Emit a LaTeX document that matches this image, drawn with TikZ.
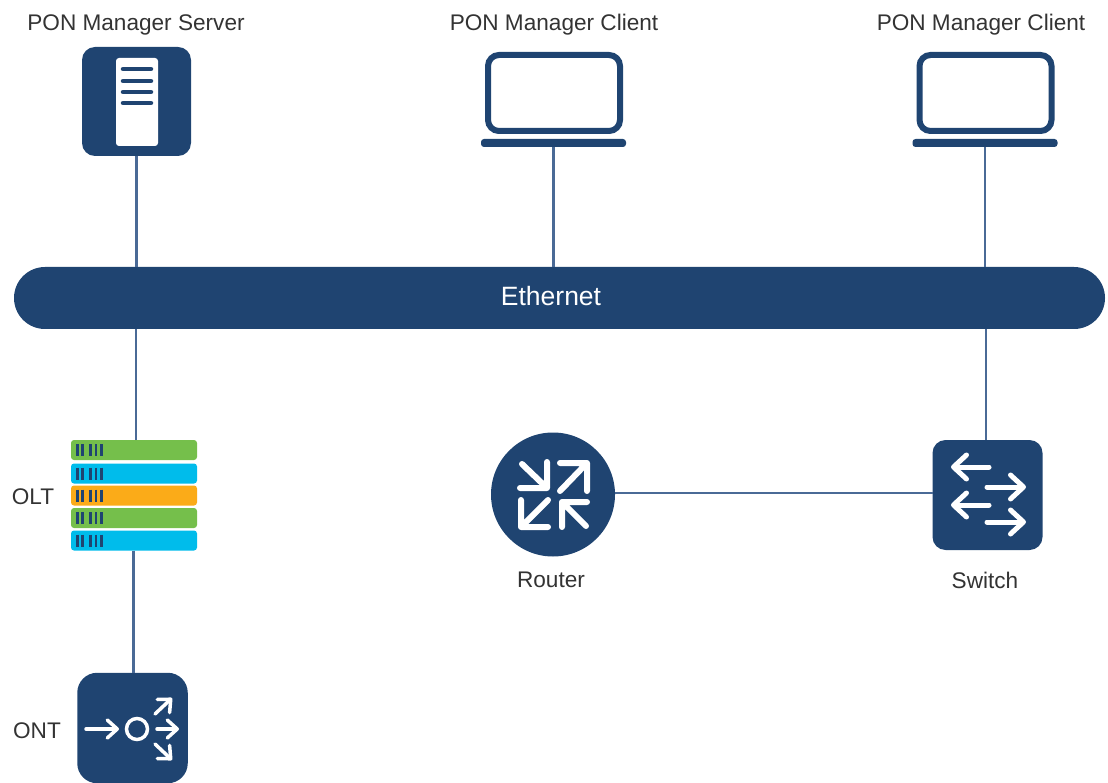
\documentclass[tikz,border=0pt]{standalone}
\usepackage{fontspec}
\setmainfont{Liberation Sans}
\usetikzlibrary{arrows.meta}
\definecolor{navy}{HTML}{1F4471}
\definecolor{wire}{HTML}{4A6A96}
\definecolor{oltgreen}{HTML}{75BF4B}
\definecolor{oltblue}{HTML}{00BCEB}
\definecolor{oltorange}{HTML}{FBAB18}
\definecolor{textgray}{HTML}{333333}
\tikzset{
  tile/.style={fill=navy,rounded corners=13pt,minimum width=#1,minimum height=#1,inner sep=0pt},
  wirelink/.style={draw=wire,line width=2.2pt},
  caption/.style={text=textgray,font=\fontsize{22.6}{26}\selectfont,inner sep=0pt},
  smallglyph/.style={draw=white,line width=3.5pt,line cap=round,-{Straight Barb[length=10pt,width=18pt,round]}},
  bigglyph/.style={draw=white,line width=5pt,line cap=round,-{Straight Barb[length=13pt,width=24pt,round]}},
  cornerglyph/.style={draw=white,line width=6pt,line cap=round,line join=round},
  screen/.style={draw=navy,line width=6pt,rounded corners=11pt,minimum width=132pt,minimum height=76pt,inner sep=0pt},
  base/.style={fill=navy,rounded corners=3pt,minimum width=145pt,minimum height=8pt,inner sep=0pt},
  shelf/.style={fill=#1,rounded corners=3pt,minimum width=126pt,minimum height=20pt,inner sep=0pt}
}
\begin{document}
\begin{tikzpicture}[x=1pt,y=-1pt]
\useasboundingbox (0,0) rectangle (1108,783);
% top row
\node [tile=109pt] (server) at (136.5,101.5) {};
\node [fill=white,rounded corners=3pt,minimum width=42pt,minimum height=88pt,inner sep=0pt] (blade) at (137,102) {};
\foreach \y in {69,81,92,103} {
  \draw [navy,line width=4.5pt,line cap=round] (123,\y) -- (151,\y);
}
\node [screen] (screenA) at (554,93) {};
\node [base] (laptopA) at (553.5,143) {};
\node [screen] (screenB) at (985.5,93) {};
\node [base] (laptopB) at (985,143) {};
\node [caption] (serverlabel) at (136,25) {PON Manager Server};
\node [caption] (clientlabelA) at (554,25) {PON Manager Client};
\node [caption] (clientlabelB) at (981,25) {PON Manager Client};
% bus
\node [fill=navy,rounded corners=31pt,minimum width=1091pt,minimum height=62pt,inner sep=0pt] (ethernet) at (559.5,298) {};
\node [text=white,font=\fontsize{26.5}{30}\selectfont,inner sep=0pt] (ethernetlabel) at (551,296) {Ethernet};
% OLT stack
\foreach \name/\y/\col in {shelfA/450/oltgreen,shelfB/473.5/oltblue,shelfC/495.5/oltorange,shelfD/518/oltgreen,shelfE/540.5/oltblue} {
  \node [shelf=\col] (\name) at (134,\y) {};
  \foreach \x in {77.5,82.5,90.5,96,101.5} {
    \draw [navy,line width=2.6pt] (\x,\y-6) -- (\x,\y+6);
  }
}
\node [caption] (oltlabel) at (33,497) {OLT};
% ONT
\node [tile=110.5pt,rounded corners=20pt] (ont) at (132.5,728) {};
\draw [smallglyph] (86,729) -- (119,729);
\node [circle,draw=white,line width=3.5pt,minimum size=21pt,inner sep=0pt] (splitter) at (137,729) {};
\draw [smallglyph] (157,729) -- (179,729);
\draw [smallglyph] (155,714) -- (172,698);
\draw [smallglyph] (155,744) -- (172,760);
\node [caption] (ontlabel) at (37,731) {ONT};
% router
\node [circle,fill=navy,minimum size=124pt,inner sep=0pt] (router) at (553,494.5) {};
\foreach \tipx/\tipy/\earx/\eary/\tailx/\taily in {547/488/520/462/522/464,587/463/560/491/560/491,521/527/548/500/548/500,562/502/587/527/586/526} {
  \draw [cornerglyph] (\earx,\tipy) -- (\tipx,\tipy) -- (\tipx,\eary) (\tipx,\tipy) -- (\tailx,\taily);
}
\node [caption] (routerlabel) at (551,580) {Router};
% switch
\node [tile=110pt] (switch) at (987.5,495) {};
\foreach \y in {467,505} {
  \draw [bigglyph] (989,\y) -- (951,\y);
}
\foreach \y in {487,522} {
  \draw [bigglyph] (987,\y) -- (1026,\y);
}
\node [caption] (switchlabel) at (985,580) {Switch};
% wires
\draw [wirelink] (server.south) -- (server.south |- ethernet.north);
\draw [wirelink] (laptopA.south) -- (laptopA.south |- ethernet.north);
\draw [wirelink] (laptopB.south) -- (laptopB.south |- ethernet.north);
\draw [wirelink] (shelfA.north) ++(2,0) -- ++(0,-111);
\draw [wirelink] (switch.north) ++(-1.5,0) -- ++(0,-111);
\draw [wirelink] (shelfE.south) ++(-0.5,0) -- ++(0,122);
\draw [wirelink] (router.east) ++(0,-1.5) -- ++(318,0);
\end{tikzpicture}
\end{document}
